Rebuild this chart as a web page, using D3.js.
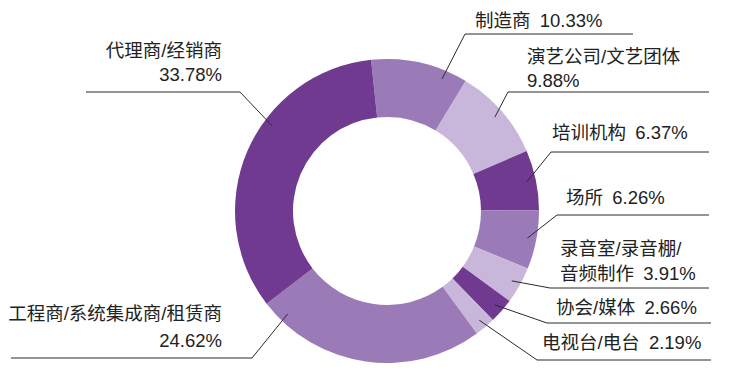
<!DOCTYPE html>
<html>
<head>
<meta charset="utf-8">
<title>客户类型分布</title>
<script src="https://cdn.jsdelivr.net/npm/d3@7"></script>
<style>
  body { margin: 0; background: #fff; }
  svg text { font-family: "Liberation Sans", "Noto Sans CJK SC", sans-serif; font-size: 18.5px; fill: #222; white-space: pre; }
</style>
</head>
<body>
<svg id="chart" width="740" height="373"></svg>
<script>
// data, clockwise from the top
var categories = ["制造商", "演艺公司/文艺团体", "培训机构", "场所", "录音室/录音棚/音频制作",
                  "协会/媒体", "电视台/电台", "工程商/系统集成商/租赁商", "代理商/经销商"];
var values = [10.33, 9.88, 6.37, 6.26, 3.91, 2.66, 2.19, 24.62, 33.78];
var colors = ["#9b7bb7", "#c8b7da", "#6f3a90", "#9b7bb7", "#c8b7da", "#6f3a90", "#c8b7da", "#9b7bb7", "#6f3a90"];

// label placement (hand laid out like the original)
// lines: text rows, tx: text x, anchor, ys: baselines, elbow/end of the leader, t: where along the slice the leader points
var labels = [
  { lines: ["制造商\u200210.33%"], tx: 475, anchor: "start", ys: [27], ex: 465, ey: 34, endx: 633, t: 0.77 },
  { lines: ["演艺公司/文艺团体", "9.88%"], tx: 527, anchor: "start", ys: [63, 87], ex: 508, ey: 92, endx: 709, t: 0.5 },
  { lines: ["培训机构\u20026.37%"], tx: 552, anchor: "start", ys: [139], ex: 551, ey: 152, endx: 709, t: 0.5 },
  { lines: ["场所\u20026.26%"], tx: 566, anchor: "start", ys: [204], ex: 557, ey: 215, endx: 709, t: 0.5 },
  { lines: ["录音室/录音棚/", "音频制作\u20023.91%"], tx: 560, anchor: "start", ys: [255, 280], ex: 550, ey: 288, endx: 709, t: 0.5 },
  { lines: ["协会/媒体\u20022.66%"], tx: 556, anchor: "start", ys: [314], ex: 547, ey: 323, endx: 711, t: 0.5 },
  { lines: ["电视台/电台\u20022.19%"], tx: 542, anchor: "start", ys: [349], ex: 537, ey: 360, endx: 711, t: 0.5 },
  { lines: ["工程商/系统集成商/租赁商", "24.62%"], tx: 222, anchor: "end", ys: [320, 347], ex: 252, ey: 358, endx: 11, t: 0.905 },
  { lines: ["代理商/经销商", "33.78%"], tx: 222, anchor: "end", ys: [57, 81], ex: 240, ey: 92, endx: 86, t: 0.61 }
];

var cx = 387, cy = 211, rOuter = 152, rInner = 94, rPoint = 143;
var startAngle = -0.105;

var svg = d3.select("#chart");
var g = svg.append("g").attr("transform", "translate(" + cx + "," + cy + ")");

var pie = d3.pie().sort(null).value(d => d)
  .startAngle(startAngle).endAngle(startAngle + 2 * Math.PI);
var arcs = pie(values);

var arc = d3.arc().innerRadius(rInner).outerRadius(rOuter);

g.selectAll("path.slice")
  .data(arcs)
  .enter()
  .append("path")
  .attr("class", "slice")
  .attr("d", arc)
  .attr("fill", (d, i) => colors[i]);

// leader lines
svg.selectAll("polyline.leader")
  .data(arcs)
  .enter()
  .append("polyline")
  .attr("class", "leader")
  .attr("fill", "none")
  .attr("stroke", "#2b2b2b")
  .attr("stroke-width", 1)
  .attr("points", function(d, i) {
    var L = labels[i];
    var a = d.startAngle + L.t * (d.endAngle - d.startAngle);
    var px = cx + rPoint * Math.sin(a);
    var py = cy - rPoint * Math.cos(a);
    return [[px, py], [L.ex, L.ey], [L.endx, L.ey]].map(p => p.join(",")).join(" ");
  });

// label text
labels.forEach(function(L, i) {
  L.lines.forEach(function(s, j) {
    svg.append("text")
      .attr("x", L.tx)
      .attr("y", L.ys[j])
      .attr("text-anchor", L.anchor)
      .text(s);
  });
});
</script>
</body>
</html>
